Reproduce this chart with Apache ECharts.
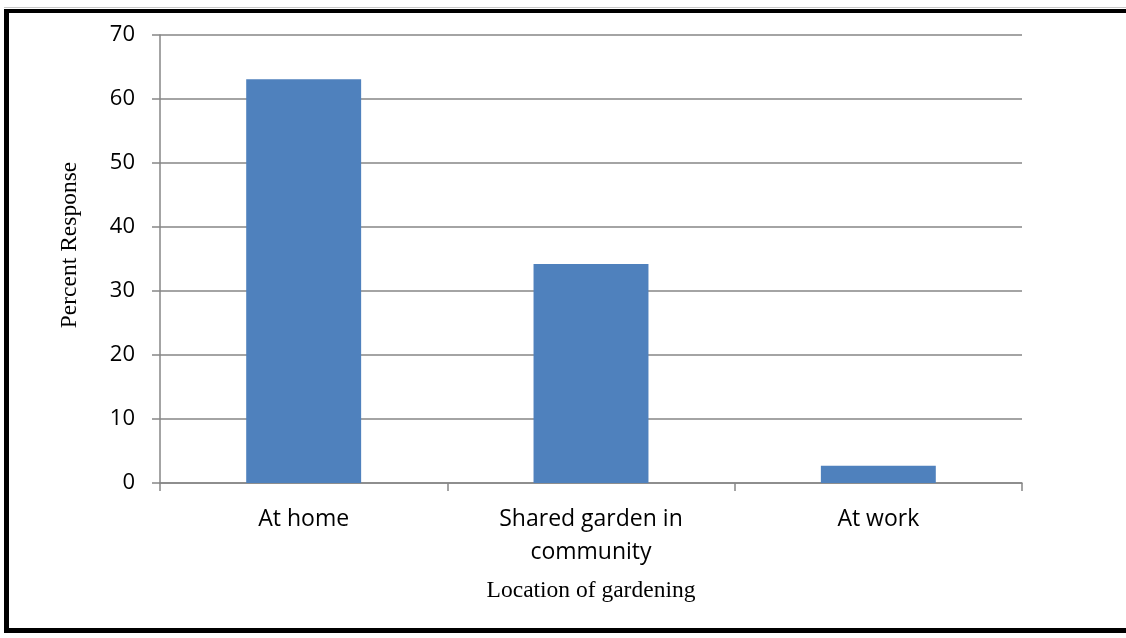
<!DOCTYPE html>
<html>
<head>
<meta charset="utf-8">
<script src="https://cdn.jsdelivr.net/npm/echarts@6/dist/echarts.min.js"></script>
<style>
  html, body { margin: 0; padding: 0; background: #fff; }
  #frame { position: absolute; left: 4px; top: 9px; width: 1122px; height: 624px;
           border-left: 5px solid #000; border-top: 4px solid #000; border-bottom: 5px solid #000; box-sizing: border-box; }
  #topline { position: absolute; left: 4px; top: 7px; width: 1122px; height: 1px; background: #c8c8c8; }
  #chart { position: absolute; left: 0; top: 0; width: 1126px; height: 638px; }
</style>
</head>
<body>
<div id="topline"></div>
<div id="frame"></div>
<div id="chart"></div>
<script>
const categories = ['At home', 'Shared garden in\ncommunity', 'At work'];
const percentResponse = [63.1, 34.2, 2.7];
const yTicks = { min: 0, max: 70, interval: 10 };
const xAxisTitle = 'Location of gardening';
const yAxisTitle = 'Percent Response';

const chart = echarts.init(document.getElementById('chart'), null, { renderer: 'canvas' });
chart.setOption({
  animation: false,
  backgroundColor: 'transparent',
  grid: { left: 160, right: 104, top: 35, bottom: 155, containLabel: false },
  graphic: [{
    type: 'text',
    x: 70, y: 245,
    rotation: Math.PI / 2,
    style: {
      text: yAxisTitle,
      fontFamily: 'Liberation Serif', fontSize: 23.5, fill: '#000',
      align: 'center', verticalAlign: 'middle'
    }
  }],
  xAxis: {
    type: 'category',
    data: categories,
    name: xAxisTitle,
    nameLocation: 'middle',
    nameGap: 96,
    nameTextStyle: { fontFamily: 'Liberation Serif', fontSize: 23.5, color: '#000' },
    axisLine: { lineStyle: { color: '#868686', width: 1.5 } },
    axisTick: { show: true, alignWithLabel: false, length: 8, lineStyle: { color: '#868686', width: 1.5 } },
    axisLabel: { fontFamily: 'Open Sans', fontSize: 23, color: '#000', margin: 20, lineHeight: 33 }
  },
  yAxis: {
    type: 'value',
    min: yTicks.min, max: yTicks.max, interval: yTicks.interval,
    axisLine: { show: true, lineStyle: { color: '#868686', width: 1.5 } },
    axisTick: { show: true, inside: false, length: 8, lineStyle: { color: '#868686', width: 1.5 } },
    axisLabel: { fontFamily: 'Open Sans', fontSize: 22, color: '#000', margin: 25 },
    splitLine: { show: true, lineStyle: { color: '#868686', width: 1.5 } }
  },
  series: [{
    type: 'bar',
    data: percentResponse,
    barCategoryGap: '60%',
    itemStyle: { color: '#4F81BD' }
  }]
});
</script>
</body>
</html>
